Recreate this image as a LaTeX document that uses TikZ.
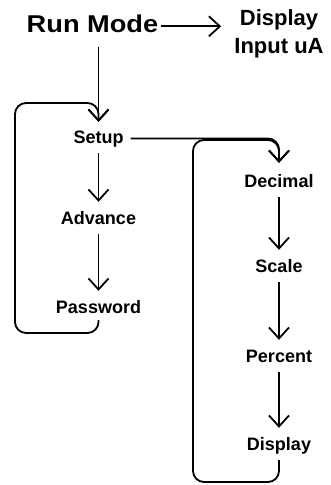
\documentclass[tikz,border=0pt]{standalone}
\usepackage{fontspec}
\setmainfont{Liberation Sans}
\newfontfamily\widesans{Liberation Sans}[FakeStretch=1.12]
\usetikzlibrary{arrows.meta,positioning}

\begin{document}
\begin{tikzpicture}[x=1pt,y=-1pt,
  item/.style={inner sep=0pt,anchor=base,font=\fontsize{18}{22}\selectfont\bfseries,text height=13pt,text depth=4pt},
  flow/.style={line width=1.8pt,-{Straight Barb[length=11pt,width=20pt]},shorten <=6pt,shorten >=9pt},
  back/.style={flow,rounded corners=11pt}
]

\useasboundingbox (0,0) rectangle (330,485);

% Top row
\node[inner sep=0pt,anchor=base,font=\widesans\fontsize{24.3}{28}\selectfont\bfseries] (runmode) at (92.5,32) {Run Mode};
\node[inner sep=0pt,align=center,font=\fontsize{22}{28}\selectfont\bfseries] (dispinput) at (279,34) {Display\\Input uA};

% Left column
\node[item] (setup) at (98.5,143) {Setup};
\node[item] (advance) at (98.5,224) {Advance};
\node[item] (password) at (98.5,313) {Password};

% Right column
\node[item] (decimal) at (279,187) {Decimal};
\node[item] (scale) at (279,272) {Scale};
\node[item] (percent) at (279,362) {Percent};
\node[item] (display) at (279,450) {Display};

% Loop corners
\coordinate (lbot) at (15,333);
\coordinate (ltop) at (15,103);
\coordinate (rbot) at (193,482);
\coordinate (rtop) at (193,140);

% Arrows
\draw[flow,shorten <=3pt,shorten >=13pt] ([yshift=-3pt]runmode.east) -- ([yshift=-3pt]runmode.east -| dispinput.west);
\draw[flow,shorten <=15pt,shorten >=8pt] (setup |- runmode.south) -- (setup.north);
\draw[back,shorten <=3pt,shorten >=8pt] (password.south) |- (lbot) -- (ltop) -| (setup.north);
\draw[flow] (setup) -- (advance);
\draw[flow] (advance) -- (password);
\draw[back,shorten <=7pt,shorten >=11pt] (setup.east) -| (decimal.north);
\draw[back,shorten <=6pt,shorten >=11pt] (display.south) |- (rbot) -- (rtop) -| (decimal.north);
\draw[flow] (decimal) -- (scale);
\draw[flow] (scale) -- (percent);
\draw[flow] (percent) -- (display);

\end{tikzpicture}
\end{document}
